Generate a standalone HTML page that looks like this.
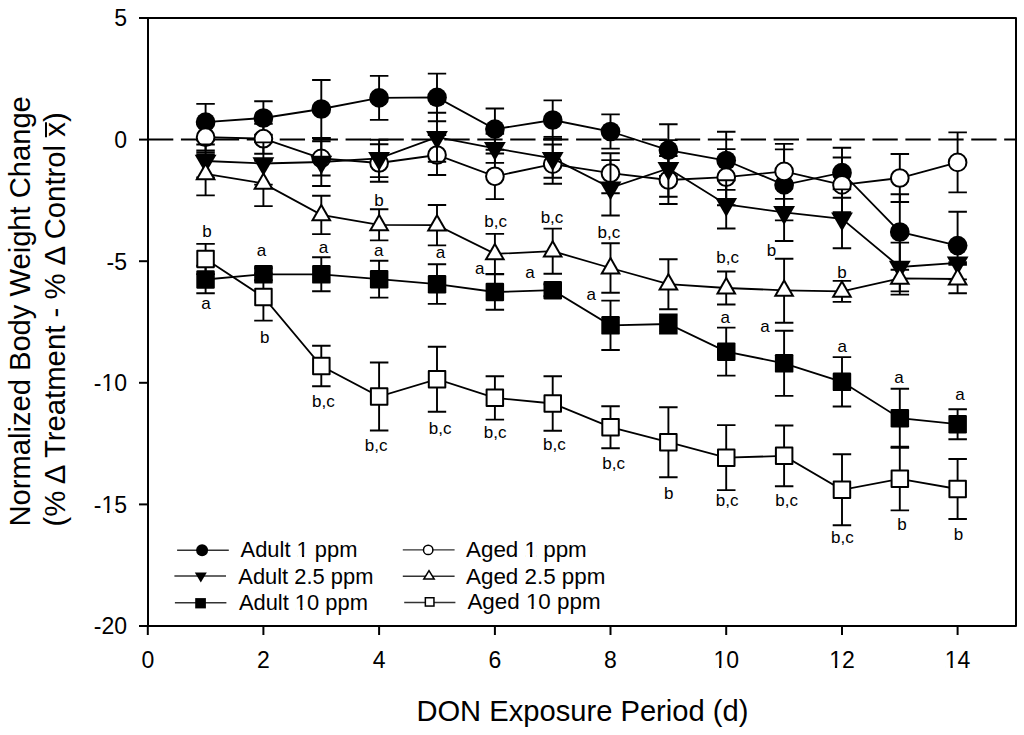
<!DOCTYPE html><html><head><meta charset="utf-8"><style>html,body{margin:0;padding:0;background:#fff;}svg{display:block}</style></head><body>
<svg width="1024" height="735" viewBox="0 0 1024 735" font-family='"Liberation Sans", sans-serif'>
<rect x="0" y="0" width="1024" height="735" fill="#fff"/>
<line x1="148" y1="139.6" x2="1016" y2="139.6" stroke="#000" stroke-width="2" stroke-dasharray="25.3 7.63"/>
<path d="M205.6 103.9V140.3M196.3 103.9H214.8M196.3 140.3H214.8" stroke="#000" stroke-width="1.9" fill="none"/>
<path d="M263.4 101.2V134.8M254.2 101.2H272.7M254.2 134.8H272.7" stroke="#000" stroke-width="1.9" fill="none"/>
<path d="M321.3 80.0V138.0M312.1 80.0H330.6M312.1 138.0H330.6" stroke="#000" stroke-width="1.9" fill="none"/>
<path d="M379.1 75.9V119.9M369.9 75.9H388.4M369.9 119.9H388.4" stroke="#000" stroke-width="1.9" fill="none"/>
<path d="M437.0 73.6V121.2M427.8 73.6H446.2M427.8 121.2H446.2" stroke="#000" stroke-width="1.9" fill="none"/>
<path d="M494.9 108.5V149.7M485.6 108.5H504.1M485.6 149.7H504.1" stroke="#000" stroke-width="1.9" fill="none"/>
<path d="M552.7 100.4V139.6M543.5 100.4H562.0M543.5 139.6H562.0" stroke="#000" stroke-width="1.9" fill="none"/>
<path d="M610.5 114.4V148.6M601.3 114.4H619.8M601.3 148.6H619.8" stroke="#000" stroke-width="1.9" fill="none"/>
<path d="M668.4 124.2V176.0M659.1 124.2H677.6M659.1 176.0H677.6" stroke="#000" stroke-width="1.9" fill="none"/>
<path d="M726.2 131.8V189.9M717.0 131.8H735.5M717.0 189.9H735.5" stroke="#000" stroke-width="1.9" fill="none"/>
<path d="M784.1 149.4V220.4M774.9 149.4H793.4M774.9 220.4H793.4" stroke="#000" stroke-width="1.9" fill="none"/>
<path d="M842.0 147.7V197.7M832.7 147.7H851.2M832.7 197.7H851.2" stroke="#000" stroke-width="1.9" fill="none"/>
<path d="M899.8 194.2V269.8M890.6 194.2H909.1M890.6 269.8H909.1" stroke="#000" stroke-width="1.9" fill="none"/>
<path d="M957.6 211.8V279.4M948.4 211.8H966.9M948.4 279.4H966.9" stroke="#000" stroke-width="1.9" fill="none"/>
<path d="M205.6 122.1 L263.4 118.0 L321.3 109.0 L379.1 97.9 L437.0 97.4 L494.9 129.1 L552.7 120.0 L610.5 131.5 L668.4 150.1 L726.2 160.5 L784.1 184.9 L842.0 172.7 L899.8 232.0 L957.6 245.6" stroke="#000" stroke-width="1.8" fill="none"/>
<circle cx="205.6" cy="122.1" r="9.85" fill="#000"/>
<circle cx="263.4" cy="118.0" r="9.85" fill="#000"/>
<circle cx="321.3" cy="109.0" r="9.85" fill="#000"/>
<circle cx="379.1" cy="97.9" r="9.85" fill="#000"/>
<circle cx="437.0" cy="97.4" r="9.85" fill="#000"/>
<circle cx="494.9" cy="129.1" r="9.85" fill="#000"/>
<circle cx="552.7" cy="120.0" r="9.85" fill="#000"/>
<circle cx="610.5" cy="131.5" r="9.85" fill="#000"/>
<circle cx="668.4" cy="150.1" r="9.85" fill="#000"/>
<circle cx="726.2" cy="160.5" r="9.85" fill="#000"/>
<circle cx="784.1" cy="184.9" r="9.85" fill="#000"/>
<circle cx="842.0" cy="172.7" r="9.85" fill="#000"/>
<circle cx="899.8" cy="232.0" r="9.85" fill="#000"/>
<circle cx="957.6" cy="245.6" r="9.85" fill="#000"/>
<path d="M205.6 124.0V150.4M196.3 124.0H214.8M196.3 150.4H214.8" stroke="#000" stroke-width="1.9" fill="none"/>
<path d="M263.4 123.7V153.7M254.2 123.7H272.7M254.2 153.7H272.7" stroke="#000" stroke-width="1.9" fill="none"/>
<path d="M321.3 141.3V175.5M312.1 141.3H330.6M312.1 175.5H330.6" stroke="#000" stroke-width="1.9" fill="none"/>
<path d="M379.1 144.3V181.7M369.9 144.3H388.4M369.9 181.7H388.4" stroke="#000" stroke-width="1.9" fill="none"/>
<path d="M437.0 135.0V175.0M427.8 135.0H446.2M427.8 175.0H446.2" stroke="#000" stroke-width="1.9" fill="none"/>
<path d="M494.9 153.5V199.1M485.6 153.5H504.1M485.6 199.1H504.1" stroke="#000" stroke-width="1.9" fill="none"/>
<path d="M552.7 144.5V183.7M543.5 144.5H562.0M543.5 183.7H562.0" stroke="#000" stroke-width="1.9" fill="none"/>
<path d="M610.5 153.2V193.2M601.3 153.2H619.8M601.3 193.2H619.8" stroke="#000" stroke-width="1.9" fill="none"/>
<path d="M668.4 156.0V204.0M659.1 156.0H677.6M659.1 204.0H677.6" stroke="#000" stroke-width="1.9" fill="none"/>
<path d="M726.2 149.1V205.3M717.0 149.1H735.5M717.0 205.3H735.5" stroke="#000" stroke-width="1.9" fill="none"/>
<path d="M784.1 143.9V198.9M774.9 143.9H793.4M774.9 198.9H793.4" stroke="#000" stroke-width="1.9" fill="none"/>
<path d="M842.0 157.5V212.3M832.7 157.5H851.2M832.7 212.3H851.2" stroke="#000" stroke-width="1.9" fill="none"/>
<path d="M899.8 154.0V202.0M890.6 154.0H909.1M890.6 202.0H909.1" stroke="#000" stroke-width="1.9" fill="none"/>
<path d="M957.6 132.4V192.4M948.4 132.4H966.9M948.4 192.4H966.9" stroke="#000" stroke-width="1.9" fill="none"/>
<path d="M205.6 137.2 L263.4 138.7 L321.3 158.4 L379.1 163.0 L437.0 155.0 L494.9 176.3 L552.7 164.1 L610.5 173.2 L668.4 180.0 L726.2 177.2 L784.1 171.4 L842.0 184.9 L899.8 178.0 L957.6 162.4" stroke="#000" stroke-width="1.8" fill="none"/>
<circle cx="205.6" cy="137.2" r="8.85" fill="#fff" stroke="#000" stroke-width="2.0"/>
<circle cx="263.4" cy="138.7" r="8.85" fill="#fff" stroke="#000" stroke-width="2.0"/>
<circle cx="321.3" cy="158.4" r="8.85" fill="#fff" stroke="#000" stroke-width="2.0"/>
<circle cx="379.1" cy="163.0" r="8.85" fill="#fff" stroke="#000" stroke-width="2.0"/>
<circle cx="437.0" cy="155.0" r="8.85" fill="#fff" stroke="#000" stroke-width="2.0"/>
<circle cx="494.9" cy="176.3" r="8.85" fill="#fff" stroke="#000" stroke-width="2.0"/>
<circle cx="552.7" cy="164.1" r="8.85" fill="#fff" stroke="#000" stroke-width="2.0"/>
<circle cx="610.5" cy="173.2" r="8.85" fill="#fff" stroke="#000" stroke-width="2.0"/>
<circle cx="668.4" cy="180.0" r="8.85" fill="#fff" stroke="#000" stroke-width="2.0"/>
<circle cx="726.2" cy="177.2" r="8.85" fill="#fff" stroke="#000" stroke-width="2.0"/>
<circle cx="784.1" cy="171.4" r="8.85" fill="#fff" stroke="#000" stroke-width="2.0"/>
<circle cx="842.0" cy="184.9" r="8.85" fill="#fff" stroke="#000" stroke-width="2.0"/>
<circle cx="899.8" cy="178.0" r="8.85" fill="#fff" stroke="#000" stroke-width="2.0"/>
<circle cx="957.6" cy="162.4" r="8.85" fill="#fff" stroke="#000" stroke-width="2.0"/>
<path d="M205.6 144.5V177.5M196.3 144.5H214.8M196.3 177.5H214.8" stroke="#000" stroke-width="1.9" fill="none"/>
<path d="M263.4 142.4V184.6M254.2 142.4H272.7M254.2 184.6H272.7" stroke="#000" stroke-width="1.9" fill="none"/>
<path d="M321.3 138.0V186.0M312.1 138.0H330.6M312.1 186.0H330.6" stroke="#000" stroke-width="1.9" fill="none"/>
<path d="M379.1 139.7V177.1M369.9 139.7H388.4M369.9 177.1H388.4" stroke="#000" stroke-width="1.9" fill="none"/>
<path d="M437.0 112.7V161.7M427.8 112.7H446.2M427.8 161.7H446.2" stroke="#000" stroke-width="1.9" fill="none"/>
<path d="M494.9 133.7V162.9M485.6 133.7H504.1M485.6 162.9H504.1" stroke="#000" stroke-width="1.9" fill="none"/>
<path d="M552.7 139.0V177.8M543.5 139.0H562.0M543.5 177.8H562.0" stroke="#000" stroke-width="1.9" fill="none"/>
<path d="M610.5 160.1V215.5M601.3 160.1H619.8M601.3 215.5H619.8" stroke="#000" stroke-width="1.9" fill="none"/>
<path d="M668.4 140.1V196.7M659.1 140.1H677.6M659.1 196.7H677.6" stroke="#000" stroke-width="1.9" fill="none"/>
<path d="M726.2 180.3V228.5M717.0 180.3H735.5M717.0 228.5H735.5" stroke="#000" stroke-width="1.9" fill="none"/>
<path d="M784.1 183.8V241.0M774.9 183.8H793.4M774.9 241.0H793.4" stroke="#000" stroke-width="1.9" fill="none"/>
<path d="M842.0 189.4V248.2M832.7 189.4H851.2M832.7 248.2H851.2" stroke="#000" stroke-width="1.9" fill="none"/>
<path d="M899.8 242.6V291.4M890.6 242.6H909.1M890.6 291.4H909.1" stroke="#000" stroke-width="1.9" fill="none"/>
<path d="M957.6 262.2V263.4M948.4 262.2H966.9M948.4 263.4H966.9" stroke="#000" stroke-width="1.9" fill="none"/>
<path d="M205.6 161.0 L263.4 163.5 L321.3 162.0 L379.1 158.4 L437.0 137.2 L494.9 148.3 L552.7 158.4 L610.5 187.8 L668.4 168.4 L726.2 204.4 L784.1 212.4 L842.0 218.8 L899.8 267.0 L957.6 262.8" stroke="#000" stroke-width="1.8" fill="none"/>
<polygon points="194.7,154.7 216.5,154.7 205.6,173.5" fill="#000"/>
<polygon points="252.5,157.2 274.3,157.2 263.4,176.0" fill="#000"/>
<polygon points="310.4,155.7 332.2,155.7 321.3,174.5" fill="#000"/>
<polygon points="368.2,152.1 390.0,152.1 379.1,170.9" fill="#000"/>
<polygon points="426.1,130.9 447.9,130.9 437.0,149.7" fill="#000"/>
<polygon points="484.0,142.0 505.8,142.0 494.9,160.8" fill="#000"/>
<polygon points="541.8,152.1 563.6,152.1 552.7,170.9" fill="#000"/>
<polygon points="599.6,181.5 621.4,181.5 610.5,200.3" fill="#000"/>
<polygon points="657.5,162.1 679.3,162.1 668.4,180.9" fill="#000"/>
<polygon points="715.4,198.1 737.1,198.1 726.2,216.9" fill="#000"/>
<polygon points="773.2,206.1 795.0,206.1 784.1,224.9" fill="#000"/>
<polygon points="831.1,212.5 852.9,212.5 842.0,231.3" fill="#000"/>
<polygon points="888.9,260.7 910.7,260.7 899.8,279.5" fill="#000"/>
<polygon points="946.8,256.5 968.5,256.5 957.6,275.3" fill="#000"/>
<path d="M205.6 154.2V195.4M196.3 154.2H214.8M196.3 195.4H214.8" stroke="#000" stroke-width="1.9" fill="none"/>
<path d="M263.4 160.7V206.1M254.2 160.7H272.7M254.2 206.1H272.7" stroke="#000" stroke-width="1.9" fill="none"/>
<path d="M321.3 195.7V234.1M312.1 195.7H330.6M312.1 234.1H330.6" stroke="#000" stroke-width="1.9" fill="none"/>
<path d="M379.1 209.2V240.4M369.9 209.2H388.4M369.9 240.4H388.4" stroke="#000" stroke-width="1.9" fill="none"/>
<path d="M437.0 205.0V245.4M427.8 205.0H446.2M427.8 245.4H446.2" stroke="#000" stroke-width="1.9" fill="none"/>
<path d="M494.9 233.9V273.9M485.6 233.9H504.1M485.6 273.9H504.1" stroke="#000" stroke-width="1.9" fill="none"/>
<path d="M552.7 228.6V273.8M543.5 228.6H562.0M543.5 273.8H562.0" stroke="#000" stroke-width="1.9" fill="none"/>
<path d="M610.5 243.2V292.8M601.3 243.2H619.8M601.3 292.8H619.8" stroke="#000" stroke-width="1.9" fill="none"/>
<path d="M668.4 259.2V309.2M659.1 259.2H677.6M659.1 309.2H677.6" stroke="#000" stroke-width="1.9" fill="none"/>
<path d="M726.2 271.5V304.5M717.0 271.5H735.5M717.0 304.5H735.5" stroke="#000" stroke-width="1.9" fill="none"/>
<path d="M784.1 258.8V322.8M774.9 258.8H793.4M774.9 322.8H793.4" stroke="#000" stroke-width="1.9" fill="none"/>
<path d="M842.0 280.9V301.9M832.7 280.9H851.2M832.7 301.9H851.2" stroke="#000" stroke-width="1.9" fill="none"/>
<path d="M899.8 262.0V294.6M890.6 262.0H909.1M890.6 294.6H909.1" stroke="#000" stroke-width="1.9" fill="none"/>
<path d="M957.6 264.8V293.2M948.4 264.8H966.9M948.4 293.2H966.9" stroke="#000" stroke-width="1.9" fill="none"/>
<path d="M205.6 173.8 L263.4 183.4 L321.3 214.9 L379.1 224.8 L437.0 225.2 L494.9 253.9 L552.7 251.2 L610.5 268.0 L668.4 284.2 L726.2 288.0 L784.1 290.3 L842.0 291.4 L899.8 278.3 L957.6 279.0" stroke="#000" stroke-width="1.8" fill="none"/>
<polygon points="205.60,161.90 195.10,180.20 216.10,180.20" fill="#000"/><polygon points="205.60,165.92 198.55,178.20 212.65,178.20" fill="#fff"/>
<polygon points="263.45,171.50 252.95,189.80 273.95,189.80" fill="#000"/><polygon points="263.45,175.52 256.40,187.80 270.50,187.80" fill="#fff"/>
<polygon points="321.30,203.00 310.80,221.30 331.80,221.30" fill="#000"/><polygon points="321.30,207.02 314.25,219.30 328.35,219.30" fill="#fff"/>
<polygon points="379.15,212.90 368.65,231.20 389.65,231.20" fill="#000"/><polygon points="379.15,216.92 372.10,229.20 386.20,229.20" fill="#fff"/>
<polygon points="437.00,213.30 426.50,231.60 447.50,231.60" fill="#000"/><polygon points="437.00,217.32 429.95,229.60 444.05,229.60" fill="#fff"/>
<polygon points="494.85,242.00 484.35,260.30 505.35,260.30" fill="#000"/><polygon points="494.85,246.02 487.80,258.30 501.90,258.30" fill="#fff"/>
<polygon points="552.70,239.30 542.20,257.60 563.20,257.60" fill="#000"/><polygon points="552.70,243.32 545.65,255.60 559.75,255.60" fill="#fff"/>
<polygon points="610.55,256.10 600.05,274.40 621.05,274.40" fill="#000"/><polygon points="610.55,260.12 603.50,272.40 617.60,272.40" fill="#fff"/>
<polygon points="668.40,272.30 657.90,290.60 678.90,290.60" fill="#000"/><polygon points="668.40,276.32 661.35,288.60 675.45,288.60" fill="#fff"/>
<polygon points="726.25,276.10 715.75,294.40 736.75,294.40" fill="#000"/><polygon points="726.25,280.12 719.20,292.40 733.30,292.40" fill="#fff"/>
<polygon points="784.10,278.40 773.60,296.70 794.60,296.70" fill="#000"/><polygon points="784.10,282.42 777.05,294.70 791.15,294.70" fill="#fff"/>
<polygon points="841.95,279.50 831.45,297.80 852.45,297.80" fill="#000"/><polygon points="841.95,283.52 834.90,295.80 849.00,295.80" fill="#fff"/>
<polygon points="899.80,266.40 889.30,284.70 910.30,284.70" fill="#000"/><polygon points="899.80,270.42 892.75,282.70 906.85,282.70" fill="#fff"/>
<polygon points="957.65,267.10 947.15,285.40 968.15,285.40" fill="#000"/><polygon points="957.65,271.12 950.60,283.40 964.70,283.40" fill="#fff"/>
<path d="M205.6 265.7V293.3M196.3 265.7H214.8M196.3 293.3H214.8" stroke="#000" stroke-width="1.9" fill="none"/>
<path d="M263.4 268.3V280.3M254.2 268.3H272.7M254.2 280.3H272.7" stroke="#000" stroke-width="1.9" fill="none"/>
<path d="M321.3 257.3V291.3M312.1 257.3H330.6M312.1 291.3H330.6" stroke="#000" stroke-width="1.9" fill="none"/>
<path d="M379.1 260.8V297.6M369.9 260.8H388.4M369.9 297.6H388.4" stroke="#000" stroke-width="1.9" fill="none"/>
<path d="M437.0 264.3V303.9M427.8 264.3H446.2M427.8 303.9H446.2" stroke="#000" stroke-width="1.9" fill="none"/>
<path d="M494.9 274.2V309.8M485.6 274.2H504.1M485.6 309.8H504.1" stroke="#000" stroke-width="1.9" fill="none"/>
<path d="M552.7 284.2V296.2M543.5 284.2H562.0M543.5 296.2H562.0" stroke="#000" stroke-width="1.9" fill="none"/>
<path d="M610.5 300.6V350.0M601.3 300.6H619.8M601.3 350.0H619.8" stroke="#000" stroke-width="1.9" fill="none"/>
<path d="M668.4 314.5V333.5M659.1 314.5H677.6M659.1 333.5H677.6" stroke="#000" stroke-width="1.9" fill="none"/>
<path d="M726.2 327.6V375.6M717.0 327.6H735.5M717.0 375.6H735.5" stroke="#000" stroke-width="1.9" fill="none"/>
<path d="M784.1 330.7V395.9M774.9 330.7H793.4M774.9 395.9H793.4" stroke="#000" stroke-width="1.9" fill="none"/>
<path d="M842.0 357.1V406.5M832.7 357.1H851.2M832.7 406.5H851.2" stroke="#000" stroke-width="1.9" fill="none"/>
<path d="M899.8 388.7V446.7M890.6 388.7H909.1M890.6 446.7H909.1" stroke="#000" stroke-width="1.9" fill="none"/>
<path d="M957.6 409.2V439.2M948.4 409.2H966.9M948.4 439.2H966.9" stroke="#000" stroke-width="1.9" fill="none"/>
<path d="M205.6 279.5 L263.4 274.3 L321.3 274.3 L379.1 279.2 L437.0 284.1 L494.9 292.0 L552.7 290.2 L610.5 325.3 L668.4 324.0 L726.2 351.6 L784.1 363.3 L842.0 381.8 L899.8 418.2 L957.6 424.2" stroke="#000" stroke-width="1.8" fill="none"/>
<rect x="196.3" y="270.2" width="18.5" height="18.5" rx="1.2" fill="#000"/>
<rect x="254.2" y="265.1" width="18.5" height="18.5" rx="1.2" fill="#000"/>
<rect x="312.1" y="265.1" width="18.5" height="18.5" rx="1.2" fill="#000"/>
<rect x="369.9" y="269.9" width="18.5" height="18.5" rx="1.2" fill="#000"/>
<rect x="427.8" y="274.9" width="18.5" height="18.5" rx="1.2" fill="#000"/>
<rect x="485.6" y="282.8" width="18.5" height="18.5" rx="1.2" fill="#000"/>
<rect x="543.5" y="280.9" width="18.5" height="18.5" rx="1.2" fill="#000"/>
<rect x="601.3" y="316.1" width="18.5" height="18.5" rx="1.2" fill="#000"/>
<rect x="659.1" y="314.8" width="18.5" height="18.5" rx="1.2" fill="#000"/>
<rect x="717.0" y="342.4" width="18.5" height="18.5" rx="1.2" fill="#000"/>
<rect x="774.9" y="354.1" width="18.5" height="18.5" rx="1.2" fill="#000"/>
<rect x="832.7" y="372.6" width="18.5" height="18.5" rx="1.2" fill="#000"/>
<rect x="890.6" y="408.9" width="18.5" height="18.5" rx="1.2" fill="#000"/>
<rect x="948.4" y="414.9" width="18.5" height="18.5" rx="1.2" fill="#000"/>
<path d="M205.6 243.9V274.1M196.3 243.9H214.8M196.3 274.1H214.8" stroke="#000" stroke-width="1.9" fill="none"/>
<path d="M263.4 273.4V320.6M254.2 273.4H272.7M254.2 320.6H272.7" stroke="#000" stroke-width="1.9" fill="none"/>
<path d="M321.3 345.7V386.3M312.1 345.7H330.6M312.1 386.3H330.6" stroke="#000" stroke-width="1.9" fill="none"/>
<path d="M379.1 362.5V430.5M369.9 362.5H388.4M369.9 430.5H388.4" stroke="#000" stroke-width="1.9" fill="none"/>
<path d="M437.0 346.7V411.7M427.8 346.7H446.2M427.8 411.7H446.2" stroke="#000" stroke-width="1.9" fill="none"/>
<path d="M494.9 376.2V419.6M485.6 376.2H504.1M485.6 419.6H504.1" stroke="#000" stroke-width="1.9" fill="none"/>
<path d="M552.7 376.2V430.8M543.5 376.2H562.0M543.5 430.8H562.0" stroke="#000" stroke-width="1.9" fill="none"/>
<path d="M610.5 406.2V448.2M601.3 406.2H619.8M601.3 448.2H619.8" stroke="#000" stroke-width="1.9" fill="none"/>
<path d="M668.4 407.2V477.2M659.1 407.2H677.6M659.1 477.2H677.6" stroke="#000" stroke-width="1.9" fill="none"/>
<path d="M726.2 425.1V490.1M717.0 425.1H735.5M717.0 490.1H735.5" stroke="#000" stroke-width="1.9" fill="none"/>
<path d="M784.1 425.5V486.3M774.9 425.5H793.4M774.9 486.3H793.4" stroke="#000" stroke-width="1.9" fill="none"/>
<path d="M842.0 454.3V525.3M832.7 454.3H851.2M832.7 525.3H851.2" stroke="#000" stroke-width="1.9" fill="none"/>
<path d="M899.8 447.9V510.4M890.6 447.9H909.1M890.6 510.4H909.1" stroke="#000" stroke-width="1.9" fill="none"/>
<path d="M957.6 459.0V519.0M948.4 459.0H966.9M948.4 519.0H966.9" stroke="#000" stroke-width="1.9" fill="none"/>
<path d="M205.6 259.0 L263.4 297.0 L321.3 366.0 L379.1 396.5 L437.0 379.2 L494.9 397.9 L552.7 403.5 L610.5 427.2 L668.4 442.2 L726.2 457.6 L784.1 455.9 L842.0 489.8 L899.8 478.8 L957.6 489.0" stroke="#000" stroke-width="1.8" fill="none"/>
<rect x="197.3" y="250.8" width="16.5" height="16.5" fill="#fff" stroke="#000" stroke-width="2.0" stroke-linejoin="round"/>
<rect x="255.2" y="288.8" width="16.5" height="16.5" fill="#fff" stroke="#000" stroke-width="2.0" stroke-linejoin="round"/>
<rect x="313.1" y="357.8" width="16.5" height="16.5" fill="#fff" stroke="#000" stroke-width="2.0" stroke-linejoin="round"/>
<rect x="370.9" y="388.2" width="16.5" height="16.5" fill="#fff" stroke="#000" stroke-width="2.0" stroke-linejoin="round"/>
<rect x="428.8" y="370.9" width="16.5" height="16.5" fill="#fff" stroke="#000" stroke-width="2.0" stroke-linejoin="round"/>
<rect x="486.6" y="389.6" width="16.5" height="16.5" fill="#fff" stroke="#000" stroke-width="2.0" stroke-linejoin="round"/>
<rect x="544.5" y="395.2" width="16.5" height="16.5" fill="#fff" stroke="#000" stroke-width="2.0" stroke-linejoin="round"/>
<rect x="602.3" y="418.9" width="16.5" height="16.5" fill="#fff" stroke="#000" stroke-width="2.0" stroke-linejoin="round"/>
<rect x="660.1" y="433.9" width="16.5" height="16.5" fill="#fff" stroke="#000" stroke-width="2.0" stroke-linejoin="round"/>
<rect x="718.0" y="449.4" width="16.5" height="16.5" fill="#fff" stroke="#000" stroke-width="2.0" stroke-linejoin="round"/>
<rect x="775.9" y="447.6" width="16.5" height="16.5" fill="#fff" stroke="#000" stroke-width="2.0" stroke-linejoin="round"/>
<rect x="833.7" y="481.6" width="16.5" height="16.5" fill="#fff" stroke="#000" stroke-width="2.0" stroke-linejoin="round"/>
<rect x="891.6" y="470.6" width="16.5" height="16.5" fill="#fff" stroke="#000" stroke-width="2.0" stroke-linejoin="round"/>
<rect x="949.4" y="480.8" width="16.5" height="16.5" fill="#fff" stroke="#000" stroke-width="2.0" stroke-linejoin="round"/>
<path d="M196.3 152.2H214.8" stroke="#000" stroke-width="1.9"/>
<path d="M543.5 136.9H562.0" stroke="#000" stroke-width="1.9"/>
<text x="207.0" y="237.1" font-size="17" text-anchor="middle">b</text>
<text x="206.1" y="309.2" font-size="17" text-anchor="middle">a</text>
<text x="261.6" y="256.1" font-size="17" text-anchor="middle">a</text>
<text x="264.7" y="342.8" font-size="17" text-anchor="middle">b</text>
<text x="323.6" y="252.7" font-size="17" text-anchor="middle">a</text>
<text x="323.3" y="407.3" font-size="17" text-anchor="middle">b,c</text>
<text x="378.9" y="205.7" font-size="17" text-anchor="middle">b</text>
<text x="378.7" y="256.0" font-size="17" text-anchor="middle">a</text>
<text x="376.2" y="451.4" font-size="17" text-anchor="middle">b,c</text>
<text x="440.6" y="258.4" font-size="17" text-anchor="middle">a</text>
<text x="440.1" y="434.3" font-size="17" text-anchor="middle">b,c</text>
<text x="495.7" y="227.0" font-size="17" text-anchor="middle">b,c</text>
<text x="479.8" y="274.0" font-size="17" text-anchor="middle">a</text>
<text x="495.2" y="438.0" font-size="17" text-anchor="middle">b,c</text>
<text x="552.0" y="223.0" font-size="17" text-anchor="middle">b,c</text>
<text x="530.0" y="278.0" font-size="17" text-anchor="middle">a</text>
<text x="554.3" y="450.2" font-size="17" text-anchor="middle">b,c</text>
<text x="608.9" y="237.5" font-size="17" text-anchor="middle">b,c</text>
<text x="591.2" y="300.0" font-size="17" text-anchor="middle">a</text>
<text x="613.6" y="469.3" font-size="17" text-anchor="middle">b,c</text>
<text x="668.7" y="499.2" font-size="17" text-anchor="middle">b</text>
<text x="727.7" y="263.0" font-size="17" text-anchor="middle">b,c</text>
<text x="725.2" y="323.0" font-size="17" text-anchor="middle">a</text>
<text x="727.2" y="506.3" font-size="17" text-anchor="middle">b,c</text>
<text x="771.5" y="256.0" font-size="17" text-anchor="middle">b</text>
<text x="764.9" y="332.0" font-size="17" text-anchor="middle">a</text>
<text x="786.7" y="506.3" font-size="17" text-anchor="middle">b,c</text>
<text x="842.0" y="278.0" font-size="17" text-anchor="middle">b</text>
<text x="842.3" y="351.6" font-size="17" text-anchor="middle">a</text>
<text x="842.4" y="543.0" font-size="17" text-anchor="middle">b,c</text>
<text x="898.9" y="382.5" font-size="17" text-anchor="middle">a</text>
<text x="902.0" y="530.2" font-size="17" text-anchor="middle">b</text>
<text x="960.1" y="400.4" font-size="17" text-anchor="middle">a</text>
<text x="958.4" y="540.0" font-size="17" text-anchor="middle">b</text>
<rect x="148" y="18" width="868" height="608" fill="none" stroke="#000" stroke-width="2" stroke-linejoin="round"/>
<line x1="139" y1="18.0" x2="148" y2="18.0" stroke="#000" stroke-width="2"/>
<line x1="139" y1="139.6" x2="148" y2="139.6" stroke="#000" stroke-width="2"/>
<line x1="139" y1="261.2" x2="148" y2="261.2" stroke="#000" stroke-width="2"/>
<line x1="139" y1="382.8" x2="148" y2="382.8" stroke="#000" stroke-width="2"/>
<line x1="139" y1="504.4" x2="148" y2="504.4" stroke="#000" stroke-width="2"/>
<line x1="139" y1="626.0" x2="148" y2="626.0" stroke="#000" stroke-width="2"/>
<line x1="147.8" y1="626" x2="147.8" y2="635" stroke="#000" stroke-width="2"/>
<line x1="263.4" y1="626" x2="263.4" y2="635" stroke="#000" stroke-width="2"/>
<line x1="379.1" y1="626" x2="379.1" y2="635" stroke="#000" stroke-width="2"/>
<line x1="494.9" y1="626" x2="494.9" y2="635" stroke="#000" stroke-width="2"/>
<line x1="610.5" y1="626" x2="610.5" y2="635" stroke="#000" stroke-width="2"/>
<line x1="726.2" y1="626" x2="726.2" y2="635" stroke="#000" stroke-width="2"/>
<line x1="842.0" y1="626" x2="842.0" y2="635" stroke="#000" stroke-width="2"/>
<line x1="957.6" y1="626" x2="957.6" y2="635" stroke="#000" stroke-width="2"/>
<text x="127" y="26.3" font-size="23" text-anchor="end">5</text>
<text x="127" y="147.9" font-size="23" text-anchor="end">0</text>
<text x="127" y="269.5" font-size="23" text-anchor="end">-5</text>
<text x="127" y="391.1" font-size="23" text-anchor="end">-10</text>
<text x="127" y="512.7" font-size="23" text-anchor="end">-15</text>
<text x="127" y="634.3" font-size="23" text-anchor="end">-20</text>
<text x="147.8" y="668.4" font-size="23" text-anchor="middle">0</text>
<text x="263.4" y="668.4" font-size="23" text-anchor="middle">2</text>
<text x="379.1" y="668.4" font-size="23" text-anchor="middle">4</text>
<text x="494.9" y="668.4" font-size="23" text-anchor="middle">6</text>
<text x="610.5" y="668.4" font-size="23" text-anchor="middle">8</text>
<text x="726.2" y="668.4" font-size="23" text-anchor="middle">10</text>
<text x="842.0" y="668.4" font-size="23" text-anchor="middle">12</text>
<text x="957.6" y="668.4" font-size="23" text-anchor="middle">14</text>
<text x="416.4" y="721.4" font-size="29.15">DON Exposure Period (d)</text>
<text transform="translate(29.6,526.5) rotate(-90)" font-size="29.15">Normalized Body Weight Change</text>
<text transform="translate(65,526.5) rotate(-90)" font-size="29.3">(% &#916; Treatment - % &#916; Control x)</text>
<line x1="46" y1="122.3" x2="46" y2="137.2" stroke="#000" stroke-width="2"/>
<line x1="177.1" y1="550.2" x2="228.8" y2="550.2" stroke="#333" stroke-width="1.4"/>
<text x="240.6" y="557.0" font-size="21.9">Adult 1 ppm</text>
<line x1="174.4" y1="576.0" x2="226.0" y2="576.0" stroke="#333" stroke-width="1.4"/>
<text x="238.3" y="583.5" font-size="21.9">Adult 2.5 ppm</text>
<line x1="174.9" y1="602.8" x2="226.4" y2="602.8" stroke="#333" stroke-width="1.4"/>
<text x="238.9" y="609.6" font-size="21.9">Adult 10 ppm</text>
<line x1="402.8" y1="549.9" x2="454.6" y2="549.9" stroke="#333" stroke-width="1.4"/>
<text x="466.0" y="557.0" font-size="22.4">Aged 1 ppm</text>
<line x1="402.8" y1="576.3" x2="454.6" y2="576.3" stroke="#333" stroke-width="1.4"/>
<text x="466.0" y="583.5" font-size="22.4">Aged 2.5 ppm</text>
<line x1="404.2" y1="602.5" x2="455.4" y2="602.5" stroke="#333" stroke-width="1.4"/>
<text x="467.4" y="609.0" font-size="22.4">Aged 10 ppm</text>
<circle cx="202.1" cy="550.2" r="6" fill="#000"/>
<polygon points="194.8,572.5 206.8,572.5 200.8,582.5" fill="#000"/>
<rect x="195.2" y="598.1" width="10.7" height="10.3" fill="#000"/>
<circle cx="428.2" cy="549.9" r="4.7" fill="#fff" stroke="#000" stroke-width="1.5"/>
<polygon points="423.8,579.0 434.2,579.0 429,570.6" fill="#fff" stroke="#000" stroke-width="1.5"/>
<rect x="425.35" y="597.75" width="8.6" height="8.3" fill="#fff" stroke="#000" stroke-width="1.5"/>
<rect x="102.56" y="388.48" width="4.51" height="3.32" fill="#fff"/>
<rect x="109.34" y="388.48" width="4.33" height="3.32" fill="#fff"/>
<rect x="102.56" y="510.08" width="4.51" height="3.32" fill="#fff"/>
<rect x="109.34" y="510.08" width="4.33" height="3.32" fill="#fff"/>
<rect x="714.56" y="665.78" width="4.51" height="3.32" fill="#fff"/>
<rect x="721.34" y="665.78" width="4.33" height="3.32" fill="#fff"/>
<rect x="830.36" y="665.78" width="4.51" height="3.32" fill="#fff"/>
<rect x="837.14" y="665.78" width="4.33" height="3.32" fill="#fff"/>
<rect x="945.96" y="665.78" width="4.51" height="3.32" fill="#fff"/>
<rect x="952.74" y="665.78" width="4.33" height="3.32" fill="#fff"/>
<rect x="297.64" y="554.46" width="4.32" height="3.24" fill="#fff"/>
<rect x="304.13" y="554.46" width="4.15" height="3.24" fill="#fff"/>
<rect x="295.94" y="607.06" width="4.32" height="3.24" fill="#fff"/>
<rect x="302.43" y="607.06" width="4.15" height="3.24" fill="#fff"/>
<rect x="525.61" y="554.43" width="4.41" height="3.27" fill="#fff"/>
<rect x="532.23" y="554.43" width="4.23" height="3.27" fill="#fff"/>
<rect x="527.01" y="606.43" width="4.41" height="3.27" fill="#fff"/>
<rect x="533.63" y="606.43" width="4.23" height="3.27" fill="#fff"/>
</svg></body></html>
